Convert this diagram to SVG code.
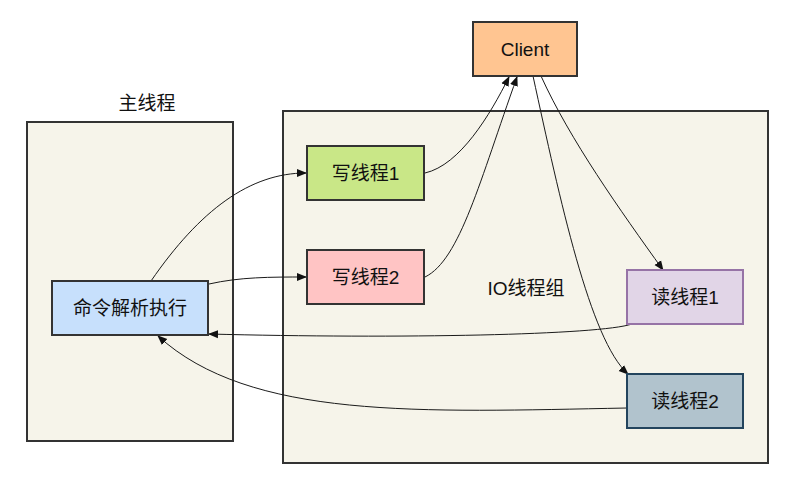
<svg xmlns="http://www.w3.org/2000/svg" width="798" height="494" viewBox="0 0 798 494">
<style>
.box{stroke:#333333;stroke-width:2}
.grp{fill:#f6f4ea;stroke:#333333;stroke-width:2}
.t{font-family:"Liberation Sans","Noto Sans CJK SC",sans-serif;font-size:19px;fill:#111111;text-anchor:middle;dominant-baseline:central}
.e{fill:none;stroke:#1a1a1a;stroke-width:1;marker-end:url(#ah)}
</style>
<defs>
<marker id="ah" viewBox="0 0 10 10" refX="9" refY="5" markerWidth="10" markerHeight="10" markerUnits="userSpaceOnUse" orient="auto">
<path d="M0,1 L10,5 L0,9 Z" fill="#111111"/>
</marker>
</defs>
<rect width="798" height="494" fill="#ffffff"/>
<g id="main-group">
<rect class="grp" x="27" y="122" width="206" height="319"/>
<text class="t" x="147" y="103">主线程</text>
</g>
<g id="io-group">
<rect class="grp" x="283" y="111" width="485" height="352"/>
<text class="t" x="526" y="288">IO线程组</text>
</g>
<g id="edges">
<path class="e" d="M151,281 C200,210 250,173 306,173"/>
<path class="e" d="M209,284 C240,277 270,277 306,277"/>
<path class="e" d="M425,173 C460,165 490,115 509,77"/>
<path class="e" d="M425,277 C460,260 480,180 517,77"/>
<path class="e" d="M533,76 C560,200 590,340 628,374"/>
<path class="e" d="M541,76 C570,140 620,210 663,270"/>
<path class="e" d="M632,324 C600,335 400,339 209,334"/>
<path class="e" d="M627,408 C420,412 250,420 158,336"/>
</g>
<g id="cmd">
<rect class="box" x="52" y="281" width="156" height="54" fill="#c7e0fc"/>
<text class="t" x="130" y="308">命令解析执行</text>
</g>
<g id="write1">
<rect class="box" x="307" y="146" width="117" height="54" fill="#c9e787"/>
<text class="t" x="365.5" y="173">写线程1</text>
</g>
<g id="write2">
<rect class="box" x="307" y="250" width="117" height="54" fill="#ffc4c4"/>
<text class="t" x="365.5" y="277">写线程2</text>
</g>
<g id="client">
<rect class="box" x="473" y="22" width="104" height="54" fill="#ffc591"/>
<text class="t" x="525" y="49">Client</text>
</g>
<g id="read1">
<rect x="627" y="270" width="116" height="54" fill="#e1d5e7" stroke="#9673a6" stroke-width="2"/>
<text class="t" x="685" y="297">读线程1</text>
</g>
<g id="read2">
<rect x="627" y="374" width="116" height="54" fill="#b1c3cd" stroke="#23445d" stroke-width="2"/>
<text class="t" x="685" y="401">读线程2</text>
</g>
</svg>
